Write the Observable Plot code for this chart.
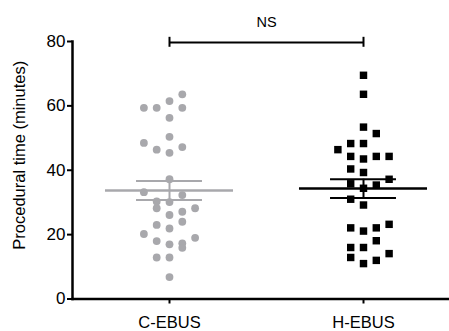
<!DOCTYPE html>
<html><head><meta charset="utf-8">
<script src="https://cdn.jsdelivr.net/npm/d3@7"></script>
<script src="https://cdn.jsdelivr.net/npm/@observablehq/plot@0.6"></script>
<style>body{margin:0;background:#fff}</style>
</head><body><div id="chart"></div>
<script>
const groups = ["C-EBUS", "H-EBUS"];
const cebusTimes = [63.6, 59.4, 59.4, 61.5, 59.4, 56.3, 48.5, 50.4, 46.4, 45.4, 47.2, 37.2, 33.2, 32.3, 30.3, 30.1, 28.2, 28.2, 26.1, 27.1, 24.0, 23.0, 21.9, 20.2, 19.0, 18.0, 17.0, 17.3, 15.9, 12.9, 12.9, 6.8];
const cebusSlots = [1, -2, -1, 0, 1, 0, -2, 0, -1, 0, 1, 0, -2, 1, -1, 0, -1, 2, 0, 1, 1, -1, 0, -2, 2, -1, 0, 1, 1, -1, 0, 0];
const hebusTimes = [69.5, 63.6, 53.4, 51.4, 48.3, 48.3, 46.4, 44.3, 43.5, 44.3, 44.3, 40.4, 39.3, 37.2, 35.8, 35.4, 34.4, 31.0, 29.2, 23.2, 22.1, 21.1, 22.1, 18.1, 16.0, 16.0, 14.1, 12.9, 12.0, 11.0];
const hebusSlots = [0, 0, 0, 1, -1, 0, -2, -1, 0, 1, 2, -1, 0, 2, -1, 1, 0, -1, 0, 2, -1, 0, 1, 1, -1, 0, 2, -1, 1, 0];
const groupMeans = [33.7, 34.3];
const groupSems = [2.95, 2.9];
const yTicks = [0, 20, 40, 60, 80];
const yLabel = "Procedural time (minutes)";
const sigLabel = "NS";

const grey = "#a8a8ac";
const colors = [grey, "#000"];
const slotStep = 0.066;
const meanHalf = 0.33, capHalf = 0.17;

const pts = [];
cebusTimes.forEach((v, i) => pts.push({g: 0, v, x: 1 + cebusSlots[i] * slotStep}));
hebusTimes.forEach((v, i) => pts.push({g: 1, v, x: 2 + hebusSlots[i] * slotStep}));
const stats = groups.map((name, i) => ({g: i, x: i + 1, m: groupMeans[i], s: groupSems[i], c: colors[i]}));

const chart = Plot.plot({
  width: 449, height: 331,
  marginLeft: 72, marginRight: 0, marginTop: 41, marginBottom: 32.5,
  style: {fontFamily: "'Liberation Sans', Arial, Helvetica, sans-serif", color: "#000", background: "#fff"},
  x: {type: "linear", domain: [1, 2], range: [169, 363]},
  y: {domain: [0, 80]},
  marks: [
    Plot.dot(pts.filter(d => d.g === 0), {x: "x", y: "v", r: 3.9, fill: grey, symbol: "circle"}),
    Plot.dot(pts.filter(d => d.g === 1), {x: "x", y: "v", r: 4.2, fill: "#000", symbol: "square"}),
    Plot.ruleY(stats, {y: "m", x1: d => d.x - meanHalf, x2: d => d.x + meanHalf, stroke: "c", strokeWidth: 2.5}),
    Plot.ruleX(stats, {x: "x", y1: d => d.m - d.s, y2: d => d.m + d.s, stroke: "c", strokeWidth: 2}),
    Plot.ruleY(stats, {y: d => d.m + d.s, x1: d => d.x - capHalf, x2: d => d.x + capHalf, stroke: "c", strokeWidth: 2}),
    Plot.ruleY(stats, {y: d => d.m - d.s, x1: d => d.x - capHalf, x2: d => d.x + capHalf, stroke: "c", strokeWidth: 2}),
    Plot.frame({anchor: "left", strokeWidth: 2.5, stroke: "#000"}),
    Plot.frame({anchor: "bottom", strokeWidth: 2.5, stroke: "#000"}),
    Plot.axisY({ticks: yTicks, tickSize: 5, tickPadding: 2, fontSize: 17, strokeWidth: 2, label: null}),
    Plot.axisX({ticks: [1, 2], tickFormat: d => groups[d - 1], tickSize: 5, tickPadding: 12, fontSize: 16.5, strokeWidth: 2, label: null}),
    Plot.text([yLabel], {frameAnchor: "left", textAnchor: "middle", dx: -53, dy: -15, rotate: -90, fontSize: 16.5}),
    Plot.ruleY([79.7], {x1: 1, x2: 2, strokeWidth: 2}),
    Plot.ruleX([1, 2], {y1: 78.2, y2: 81.3, strokeWidth: 2}),
    Plot.text([sigLabel], {x: 1.5, y: 79.7, dy: -20, fontSize: 14.5})
  ]
});
document.getElementById("chart").appendChild(chart);
</script>
</body></html>
